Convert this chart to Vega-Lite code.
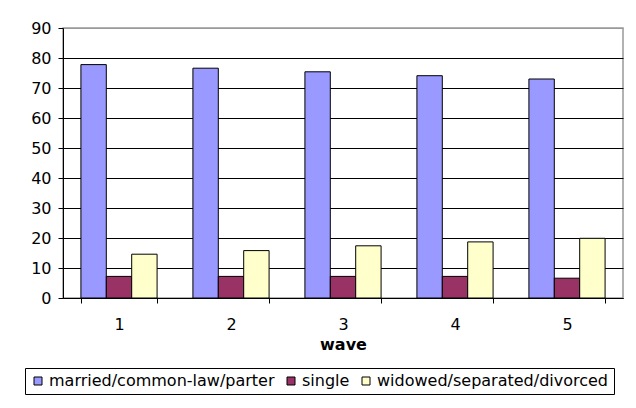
{
  "$schema": "https://vega.github.io/schema/vega-lite/v6.json",
  "autosize": {"type": "none"},
  "width": 560,
  "height": 270,
  "padding": {"left": 63, "top": 28, "right": 13, "bottom": 110},
  "background": "white",
  "config": {
    "font": "DejaVu Sans",
    "view": {"stroke": "#999999", "strokeWidth": 1.5}
  },
  "data": {
    "values": [
      {"wave": "1", "status": "married/common-law/parter", "value": 77.8},
      {"wave": "1", "status": "single", "value": 7.2},
      {"wave": "1", "status": "widowed/separated/divorced", "value": 14.6},
      {"wave": "2", "status": "married/common-law/parter", "value": 76.6},
      {"wave": "2", "status": "single", "value": 7.2},
      {"wave": "2", "status": "widowed/separated/divorced", "value": 15.8},
      {"wave": "3", "status": "married/common-law/parter", "value": 75.4},
      {"wave": "3", "status": "single", "value": 7.2},
      {"wave": "3", "status": "widowed/separated/divorced", "value": 17.4},
      {"wave": "4", "status": "married/common-law/parter", "value": 74.1},
      {"wave": "4", "status": "single", "value": 7.2},
      {"wave": "4", "status": "widowed/separated/divorced", "value": 18.7},
      {"wave": "5", "status": "married/common-law/parter", "value": 73.0},
      {"wave": "5", "status": "single", "value": 6.6},
      {"wave": "5", "status": "widowed/separated/divorced", "value": 19.9}
    ]
  },
  "mark": {"type": "bar", "stroke": "black", "strokeWidth": 1},
  "encoding": {
    "x": {
      "field": "wave",
      "type": "ordinal",
      "scale": {"paddingInner": 0.32, "paddingOuter": 0.16},
      "axis": {
        "title": "wave",
        "titleFont": "DejaVu Sans",
        "titleFontSize": 16,
        "titleFontWeight": "bold",
        "titleColor": "black",
        "titlePadding": 4,
        "labelFont": "DejaVu Sans",
        "labelFontSize": 16,
        "labelColor": "black",
        "labelAngle": 0,
        "domainColor": "black",
        "tickColor": "black",
        "tickBand": "extent",
        "tickSize": 5,
        "labelPadding": 13,
        "grid": false
      }
    },
    "xOffset": {
      "field": "status",
      "type": "nominal",
      "sort": ["married/common-law/parter", "single", "widowed/separated/divorced"],
      "scale": {"paddingInner": 0, "paddingOuter": 0}
    },
    "y": {
      "field": "value",
      "type": "quantitative",
      "scale": {"domain": [0, 90], "nice": false},
      "axis": {
        "title": null,
        "values": [0, 10, 20, 30, 40, 50, 60, 70, 80, 90],
        "labelFont": "DejaVu Sans",
        "labelFontSize": 16,
        "labelColor": "black",
        "domainColor": "black",
        "tickColor": "black",
        "tickSize": 5,
        "labelPadding": 7,
        "grid": true,
        "gridColor": {"condition": {"test": "datum.value == 90", "value": "#999999"}, "value": "black"},
        "gridOpacity": 1,
        "gridWidth": 1
      }
    },
    "color": {
      "field": "status",
      "type": "nominal",
      "sort": ["married/common-law/parter", "single", "widowed/separated/divorced"],
      "scale": {
        "domain": ["married/common-law/parter", "single", "widowed/separated/divorced"],
        "range": ["#9999ff", "#993366", "#ffffcc"]
      },
      "legend": {
        "title": null,
        "orient": "none",
        "legendX": -38,
        "legendY": 340,
        "direction": "horizontal",
        "columns": 3,
        "padding": 5,
        "strokeColor": "black",
        "fillColor": "white",
        "symbolType": "square",
        "symbolSize": 64,
        "symbolStrokeColor": "black",
        "symbolStrokeWidth": 1,
        "symbolOpacity": 1,
        "labelFont": "DejaVu Sans",
        "labelFontSize": 16,
        "labelColor": "black",
        "labelOffset": 3,
        "columnPadding": 8,
        "labelLimit": 400
      }
    }
  }
}
